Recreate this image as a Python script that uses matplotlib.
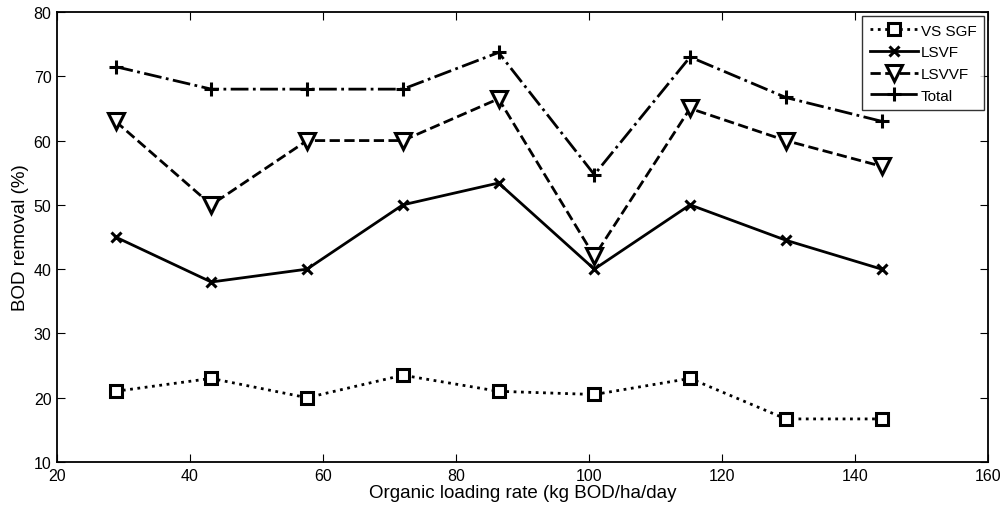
import matplotlib
matplotlib.use('Agg')
import matplotlib.pyplot as plt
import numpy as np

plt.rcParams['font.family'] = ['Liberation Sans', 'DejaVu Sans']

# organic loading rate (kg BOD/ha/day)
olr = [28.8, 43.2, 57.6, 72.0, 86.4, 100.8, 115.2, 129.6, 144.0]

# BOD removal (%)
vs_sgf = [21.0, 23.0, 20.0, 23.5, 21.0, 20.5, 23.0, 16.7, 16.7]
lsvf = [45.0, 38.0, 40.0, 50.0, 53.4, 40.0, 50.0, 44.5, 40.0]
lsvvf = [63.0, 50.0, 60.0, 60.0, 66.5, 42.0, 65.0, 60.0, 56.0]
total = [71.5, 68.0, 68.0, 68.0, 73.7, 54.7, 73.0, 66.7, 63.0]

fig = plt.figure(figsize=(10.07, 5.10), dpi=100)
ax = fig.add_axes([57 / 1007, 1 - 463 / 510, 931 / 1007, 450 / 510])

lw = 2.0
ax.plot(olr, vs_sgf, linestyle=':', color='black', linewidth=lw,
        marker='s', markersize=9, markerfacecolor='white',
        markeredgewidth=2.2, label='VS SGF')
ax.plot(olr, lsvf, linestyle='-', color='black', linewidth=lw,
        marker='x', markersize=7, markeredgewidth=2.2, label='LSVF')
ax.plot(olr, lsvvf, linestyle='--', color='black', linewidth=lw,
        marker='v', markersize=12, markerfacecolor='white',
        markeredgewidth=2.2, label='LSVVF')
ax.plot(olr, total, linestyle='-.', color='black', linewidth=lw,
        marker='+', markersize=10, markeredgewidth=2.2, label='Total')

ax.set_xlim(20, 160)
ax.set_ylim(10, 80)
ax.set_xticks(np.arange(20, 161, 20))
ax.set_yticks(np.arange(10, 81, 10))
ax.tick_params(direction='in', top=True, right=True, length=6,
               width=0.8, labelsize=11.5, pad=4)
for s in ax.spines.values():
    s.set_linewidth(1.3)

ax.set_xlabel('Organic loading rate (kg BOD/ha/day', fontsize=13.5, labelpad=1)
ax.set_ylabel('BOD removal (%)', fontsize=13.5, labelpad=3)

leg = ax.legend(loc='upper right', bbox_to_anchor=(0.9957, 0.991),
                borderaxespad=0, fontsize=11, frameon=True, fancybox=False,
                edgecolor='black', handlelength=3.2, handletextpad=0.15,
                borderpad=0.5, labelspacing=0.5)
leg.get_frame().set_linewidth(1.0)

fig.savefig('out.png', dpi=100)
